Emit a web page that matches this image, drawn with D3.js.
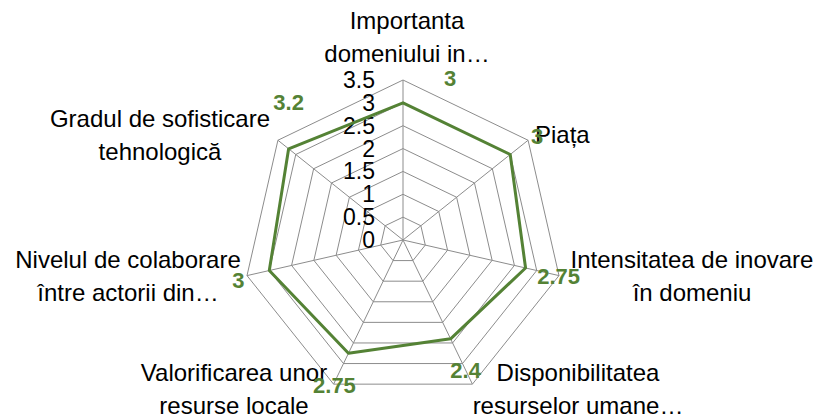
<!DOCTYPE html>
<html>
<head>
<meta charset="utf-8">
<script src="https://cdn.jsdelivr.net/npm/d3@7"></script>
<style>
  body { margin: 0; background: #fff; }
  svg { display: block; font-family: "Liberation Sans", Arial, sans-serif; }
</style>
</head>
<body>
<svg id="chart" width="821" height="419"></svg>
<script>
// data
const categories = [
  ["Importanta", "domeniului in\u2026"],
  ["Pia\u021ba"],
  ["Intensitatea de inovare", "\u00een domeniu"],
  ["Disponibilitatea", "resurselor umane\u2026"],
  ["Valorificarea unor", "resurse locale"],
  ["Nivelul de colaborare", "\u00eentre actorii din\u2026"],
  ["Gradul de sofisticare", "tehnologic\u0103"]
];
const values = [3, 3, 2.75, 2.4, 2.75, 3, 3.2];
const ticks = [0, 0.5, 1, 1.5, 2, 2.5, 3, 3.5];

// layout (label placement relative to centre / to point, like Excel puts them)
const cx = 403, cy = 240, R = 160;
const catPos = [[4, -211, "middle"], [132, -97, "start"], [289, 28, "middle"],
  [175, 141, "middle"], [-169, 141, "middle"], [-275, 28, "middle"], [-243, -113, "middle"]];
const valOffset = [[47, -24], [27, -18], [33, 9], [15, 32], [-14, 32], [-31, 10], [0, -46]];

const green = "#548235", grid = "#8c8c8c";

const svg = d3.select("#chart");
const r = d3.scaleLinear().domain([0, 3.5]).range([0, R]);
const ang = d3.scalePoint().domain(d3.range(categories.length + 1)).range([0, 2 * Math.PI]);
const pt = (i, v) => [cx + r(v) * Math.sin(ang(i)), cy - r(v) * Math.cos(ang(i))];

const g = svg.append("g");

// grid rings
g.selectAll(".ring").data(ticks.slice(1)).enter().append("polygon")
  .attr("class", "ring")
  .attr("points", t => categories.map((c, i) => pt(i, t).join(",")).join(" "))
  .attr("fill", "none").attr("stroke", grid).attr("stroke-width", 1);

// spokes
g.selectAll(".spoke").data(categories).enter().append("line")
  .attr("x1", cx).attr("y1", cy)
  .attr("x2", (d, i) => pt(i, 3.5)[0]).attr("y2", (d, i) => pt(i, 3.5)[1])
  .attr("stroke", grid).attr("stroke-width", 1);

// tick labels
g.selectAll(".tick").data(ticks).enter().append("text")
  .attr("x", cx - 28).attr("y", t => cy - r(t))
  .attr("text-anchor", "end").attr("dominant-baseline", "central")
  .attr("font-size", 23).attr("fill", "#000")
  .text(t => t);

// series line
const line = d3.line().curve(d3.curveLinearClosed);
g.append("path")
  .attr("d", line(values.map((v, i) => pt(i, v))))
  .attr("fill", "none").attr("stroke", green).attr("stroke-width", 3)
  .attr("stroke-linejoin", "round");

// category labels
categories.forEach((lines, i) => {
  const [dx, dy, anchor] = catPos[i];
  const t = g.append("text")
    .attr("text-anchor", anchor).attr("font-size", 24).attr("fill", "#000");
  lines.forEach((s, k) => {
    t.append("tspan").attr("x", cx + dx).attr("y", cy + dy + k * 33).text(s);
  });
});

// value labels
g.selectAll(".val").data(values).enter().append("text")
  .attr("x", (v, i) => pt(i, v)[0] + valOffset[i][0])
  .attr("y", (v, i) => pt(i, v)[1] + valOffset[i][1])
  .attr("text-anchor", "middle").attr("dominant-baseline", "central")
  .attr("font-size", 22).attr("font-weight", "bold").attr("fill", green)
  .text(v => v);
</script>
</body>
</html>
